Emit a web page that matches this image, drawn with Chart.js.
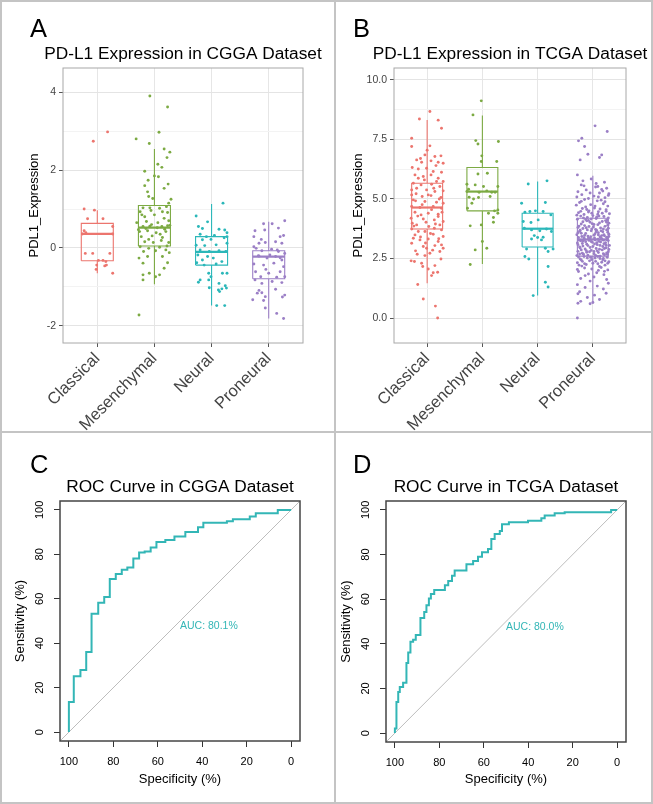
<!DOCTYPE html>
<html>
<head>
<meta charset="utf-8">
<script src="https://cdn.jsdelivr.net/npm/chart.js@4.4.1/dist/chart.umd.min.js"></script>
<style>
body { margin: 0; background: #fff; }
#fig { position: relative; width: 653px; height: 804px; overflow: hidden; background: #fff; }
#fig canvas { position: absolute; }
.ln { position: absolute; background: #c4c4c4; }
</style>
</head>
<body>
<div id="fig">
  <canvas id="chartA" width="335" height="432" style="left:0;top:0"></canvas>
  <canvas id="chartB" width="317" height="432" style="left:335px;top:0"></canvas>
  <canvas id="chartC" width="335" height="372" style="left:0;top:432px"></canvas>
  <canvas id="chartD" width="317" height="372" style="left:335px;top:432px"></canvas>
  <div class="ln" style="left:0;top:0;width:653px;height:2px"></div>
  <div class="ln" style="left:0;top:802px;width:653px;height:2px"></div>
  <div class="ln" style="left:0;top:0;width:2px;height:804px"></div>
  <div class="ln" style="left:651px;top:0;width:2px;height:804px"></div>
  <div class="ln" style="left:334px;top:0;width:2px;height:804px"></div>
  <div class="ln" style="left:0;top:431px;width:653px;height:2px"></div>
</div>
<script>
// ---- data ----
const groups = ['Classical', 'Mesenchymal', 'Neural', 'Proneural'];

// CGGA box stats: lower whisker, Q1, median, Q3, upper whisker
const cggaLow = [-0.65, -0.93, -1.48, -1.81];
const cggaQ1 = [-0.33, 0.05, -0.44, -0.79];
const cggaMed = [0.36, 0.52, -0.10, -0.22];
const cggaQ3 = [0.63, 1.09, 0.29, -0.07];
const cggaHigh = [0.97, 2.54, 1.13, 0.67];
const cggaTicks = [-2, 0, 2, 4];
const cggaMinor = [-1, 1, 3];

// jittered samples: [offset from group centre, expression]
const cggaClassical = [[-0.07,2.74],[0.18,2.98],[-0.23,1.00],[-0.05,0.97],[-0.17,0.75],[0.10,0.75],[-0.23,0.44],[-0.20,0.39],
  [0.27,0.55],[0.27,0.36],[-0.21,-0.14],[-0.08,-0.14],[0.22,-0.14],[0.02,-0.32],[0.10,-0.32],[0.15,-0.35],[-0.01,-0.44],
  [0.13,-0.46],[0.16,-0.44],[-0.02,-0.55],[0.27,-0.65],[-0.26,0.36]];
const cggaMesenchymal = [[-0.08,3.90],[0.23,3.62],[0.08,2.97],[-0.32,2.80],[-0.09,2.68],[0.17,2.54],[0.27,2.46],[0.22,2.32],
  [0.06,2.15],[0.13,2.07],[-0.17,1.97],[0.00,1.85],[-0.11,1.74],[0.07,1.83],[-0.17,1.60],[0.24,1.64],[0.17,1.53],[-0.12,1.44],
  [-0.10,1.32],[-0.03,1.27],[0.29,1.25],[0.25,1.15],[-0.20,1.03],[-0.08,1.03],[0.09,1.02],[0.21,1.06],[-0.25,0.93],[-0.06,0.96],
  [0.14,0.93],[0.23,0.91],[-0.17,0.80],[0.00,0.85],[0.17,0.76],[-0.31,0.65],[-0.14,0.68],[0.06,0.65],[0.25,0.70],[-0.20,0.55],
  [-0.08,0.56],[0.13,0.55],[0.23,0.57],[-0.26,0.42],[-0.12,0.44],[0.03,0.39],[0.20,0.42],[-0.23,0.29],[-0.04,0.31],[0.14,0.27],
  [-0.17,0.16],[-0.02,0.14],[0.12,0.19],[0.25,0.14],[-0.25,0.03],[-0.10,-0.01],[0.09,0.02],[-0.19,-0.09],[0.02,-0.07],[0.20,-0.05],
  [-0.27,-0.26],[-0.12,-0.22],[0.14,-0.22],[0.26,-0.12],[-0.20,-0.39],[0.23,-0.38],[0.17,-0.52],[-0.09,-0.65],[0.09,-0.69],
  [-0.20,-0.69],[0.02,-0.74],[-0.20,-0.82],[-0.27,-1.72],[-0.15,0.50],[0.05,0.52],[0.18,0.48],[-0.05,0.60],[0.27,0.58],
  [-0.28,0.47],[0.10,0.35],[-0.10,0.22],[0.22,0.05],[-0.22,0.85]];
const cggaNeural = [[0.20,1.15],[-0.27,0.82],[-0.07,0.67],[-0.23,0.55],[-0.16,0.50],[0.13,0.48],[0.23,0.46],[0.27,0.39],
  [-0.20,0.35],[-0.09,0.29],[0.05,0.32],[0.27,0.29],[0.22,0.26],[-0.16,0.21],[-0.01,0.22],[0.27,0.12],[-0.27,0.07],[-0.12,0.06],
  [0.08,0.08],[-0.20,-0.05],[-0.04,-0.09],[0.13,-0.07],[0.25,-0.09],[-0.24,-0.18],[-0.16,-0.31],[-0.07,-0.22],[0.03,-0.26],
  [0.18,-0.35],[0.08,-0.41],[-0.26,-0.38],[-0.13,-0.44],[-0.05,-0.65],[0.19,-0.65],[0.27,-0.65],[-0.01,-0.74],[-0.20,-0.82],
  [-0.23,-0.88],[-0.05,-0.82],[0.13,-0.91],[0.24,-0.97],[0.18,-1.05],[0.12,-1.08],[0.26,-1.03],[-0.04,-1.02],[0.14,-1.12],
  [0.09,-1.48],[0.23,-1.48]];
const cggaProneural = [[0.28,0.70],[-0.09,0.62],[0.06,0.62],[0.17,0.51],[-0.24,0.44],[-0.07,0.46],[0.26,0.32],[-0.26,0.29],
  [-0.13,0.22],[-0.17,0.12],[-0.06,0.14],[0.12,0.16],[0.23,0.12],[-0.22,-0.01],[-0.12,-0.07],[0.05,-0.03],[0.17,-0.09],
  [0.28,-0.14],[-0.17,-0.21],[-0.03,-0.26],[0.12,-0.22],[0.23,-0.31],[-0.26,-0.41],[-0.09,-0.44],[0.09,-0.39],[0.26,-0.48],
  [-0.23,-0.61],[0.00,-0.65],[0.20,-0.61],[-0.14,-0.74],[0.14,-0.75],[0.28,-0.74],[-0.24,-0.82],[-0.12,-0.91],[0.06,-0.86],
  [0.23,-0.89],[-0.17,-1.09],[-0.12,-1.15],[-0.20,-1.16],[-0.06,-1.25],[0.12,-1.06],[0.28,-1.21],[-0.28,-1.33],[-0.09,-1.35],
  [0.24,-1.26],[-0.06,-1.54],[0.14,-1.68],[0.26,-1.81],[-0.26,0.03],[0.20,0.29],[-0.18,-0.20],[0.02,-0.18],[0.20,-0.25],
  [-0.05,-0.55],[0.15,-0.05]];

// TCGA box stats
const tcgaLow = [1.46, 2.27, 0.94, 0.62];
const tcgaQ1 = [3.74, 4.50, 2.98, 2.60];
const tcgaMed = [4.64, 5.31, 3.75, 3.30];
const tcgaQ3 = [5.66, 6.32, 4.40, 4.19];
const tcgaHigh = [8.32, 8.50, 5.73, 5.97];
const tcgaTicks = [0, 2.5, 5, 7.5, 10];
const tcgaMinor = [1.25, 3.75, 6.25, 8.75];

const tcgaClassical = [[0.05,8.67],[-0.14,8.36],[0.20,8.31],[0.26,7.97],[-0.28,7.55],[-0.28,7.20],[0.05,7.23],[-0.04,6.85],
  [0.14,6.78],[0.25,6.81],[-0.19,6.64],[-0.10,6.54],[0.07,6.60],[0.20,6.54],[0.29,6.50],[-0.27,6.32],[-0.16,6.26],[-0.01,6.29],
  [0.11,6.15],[0.26,6.12],[-0.22,6.01],[-0.07,5.94],[0.07,6.01],[0.20,5.87],[0.29,5.73],[-0.25,5.66],[-0.11,5.59],[0.08,5.62],
  [0.23,5.52],[-0.28,5.38],[-0.19,5.45],[-0.01,5.38],[0.14,5.31],[0.29,5.34],[-0.28,5.17],[-0.09,5.10],[0.07,5.14],[0.25,5.06],
  [-0.21,4.92],[-0.04,4.89],[0.17,4.86],[0.29,4.82],[-0.28,4.68],[-0.13,4.64],[0.11,4.68],[0.26,4.61],[-0.22,4.44],[0.02,4.40],
  [0.20,4.36],[-0.29,4.19],[-0.07,4.16],[0.13,4.12],[0.29,4.05],[-0.19,3.91],[0.03,3.84],[0.23,3.91],[-0.28,3.74],[-0.04,3.63],
  [0.26,3.70],[-0.22,3.49],[0.11,3.52],[0.29,3.42],[-0.13,3.28],[0.02,3.32],[0.20,3.21],[-0.28,3.14],[-0.07,3.00],[0.14,3.04],
  [0.29,2.93],[-0.21,2.82],[0.05,2.72],[0.23,2.79],[-0.04,2.62],[-0.29,2.40],[-0.23,2.37],[-0.10,2.30],[0.14,2.20],[0.02,2.06],
  [0.11,1.90],[0.19,1.92],[0.08,1.78],[-0.17,1.41],[-0.07,0.80],[0.15,0.50],[0.19,0.00],[-0.16,5.87],[0.17,5.73],[-0.25,4.96],
  [0.02,5.17],[-0.11,4.33],[0.20,4.26],[-0.27,3.98],[0.13,3.77],[-0.16,3.63],[0.26,3.07],[-0.01,2.93],[-0.25,3.35],
  [-0.05,5.80],[0.12,5.45],[-0.20,5.22],[0.22,5.00],[-0.09,4.76],[0.08,4.55],[-0.17,4.28],[0.27,4.44],[-0.02,4.02],[0.15,3.95],
  [-0.24,3.86],[0.06,3.55],[-0.12,3.40],[0.21,3.33],[-0.03,3.15],[0.10,2.85],[-0.18,2.68],[0.25,2.48],[-0.08,2.16],[0.16,6.40],
  [-0.12,6.70],[0.00,7.05]];
const tcgaMesenchymal = [[-0.02,9.12],[-0.17,8.53],[-0.12,7.45],[-0.08,7.31],[0.29,7.41],[-0.01,6.81],[-0.02,6.57],[0.26,6.57],
  [-0.08,6.05],[0.09,6.08],[-0.13,5.59],[0.28,5.52],[-0.28,5.31],[-0.06,5.28],[0.08,5.34],[0.17,5.28],[-0.24,5.07],[0.14,5.10],
  [-0.07,5.06],[-0.28,5.62],[0.22,4.50],[0.28,4.54],[-0.27,4.61],[0.20,4.22],[0.28,4.40],[0.11,4.40],[-0.22,3.87],[-0.02,3.91],
  [0.20,4.02],[0.00,3.21],[0.08,2.93],[-0.13,2.86],[-0.22,2.25],[-0.16,5.00],[-0.25,5.41],[0.23,5.28],[0.02,5.52],[-0.19,4.82]];
const tcgaNeural = [[0.17,5.76],[-0.17,5.63],[-0.29,4.82],[0.14,4.85],[-0.23,4.44],[0.24,4.33],[-0.04,4.50],[0.01,4.12],
  [-0.26,4.05],[-0.12,4.01],[-0.24,3.77],[-0.11,3.70],[0.04,3.66],[0.16,3.74],[-0.06,3.46],[0.00,3.38],[0.10,3.39],[-0.11,3.32],
  [0.14,2.93],[0.28,2.90],[0.19,2.79],[-0.23,2.58],[-0.16,2.48],[0.19,2.16],[0.14,1.50],[0.19,1.30],[-0.08,0.94],[-0.20,2.90],
  [0.25,3.63],[0.07,3.28],[-0.14,4.47],[0.10,4.47]];
const tcgaProneural = [[0.04,8.07],[0.26,7.83],[-0.20,7.55],[-0.26,7.44],[-0.15,7.20],[-0.09,6.88],[0.16,6.85],[0.12,6.74],
  [-0.23,6.64],[-0.28,6.01],[-0.18,5.76],[0.21,5.70],[-0.03,5.84],[0.09,5.52],[-0.21,5.59],
  [0.25,5.45],[-0.12,5.38],[0.05,5.50],[-0.27,5.30],[0.18,5.33],[0.29,5.22],[-0.20,5.18],[0.02,5.12],[0.22,5.05],[-0.08,5.02],
  [0.12,5.25],[-0.29,5.08],[0.28,5.15],[-0.15,4.98],[0.08,4.92],[-0.24,4.85],[0.19,4.80],[-0.04,4.76],[0.27,4.70],[-0.13,4.66],
  [0.03,4.62],[-0.30,4.74],[0.15,4.95],[-0.19,4.60],[0.24,4.55],[-0.07,4.50],[0.10,4.46],[-0.26,4.42],[0.30,4.38],[-0.16,4.35],
  [0.00,4.30],[0.20,4.26],[-0.10,4.22],[-0.22,4.28],[0.13,4.58],[-0.02,4.40],[0.06,4.18],[-0.28,4.15],[0.26,4.12],[-0.11,4.08],
  [0.17,4.05],[-0.05,4.02],[0.29,3.98],[-0.21,3.95],[0.09,3.92],[-0.15,3.88],[0.22,3.85],[0.01,3.82],[-0.27,3.80],[0.14,3.78],
  [-0.08,4.10],[0.27,3.90],[-0.18,3.76],[0.05,3.72],[0.25,3.70],[-0.03,3.66],[-0.24,3.64],[0.18,3.62],[0.10,3.58],[-0.13,3.55],
  [0.29,3.52],[-0.29,3.50],[0.02,3.48],[0.21,3.45],[-0.09,3.44],[-0.20,3.42],[0.13,3.40],[0.07,3.68],[-0.26,3.38],[0.26,3.36],
  [-0.05,3.34],[0.16,3.32],[-0.15,3.30],[0.04,3.28],[0.28,3.25],[-0.22,3.24],[0.11,3.22],[-0.01,3.18],[-0.28,3.15],[0.20,3.12],
  [-0.11,3.10],[0.08,3.08],[0.30,3.05],[-0.18,3.02],[0.00,3.00],[0.15,3.35],[-0.07,3.26],[0.23,3.16],[-0.24,2.98],[0.24,2.95],
  [0.06,2.92],[-0.14,2.90],[0.17,2.86],[-0.03,2.84],[-0.27,2.80],[0.28,2.78],[0.10,2.75],[-0.19,2.72],[0.02,2.70],[0.21,2.66],
  [-0.09,2.64],[-0.29,2.62],[0.13,2.60],[-0.16,2.58],[0.26,2.55],[0.04,2.52],[-0.23,2.48],[0.18,2.45],[-0.06,2.40],[0.29,2.36],
  [-0.28,2.32],[0.09,2.28],[-0.12,2.25],[0.22,2.22],[-0.20,2.18],[0.15,2.12],[-0.02,2.06],[0.27,2.02],[-0.26,1.95],[0.07,1.90],
  [0.20,1.82],[-0.14,1.78],[0.02,1.72],[-0.22,1.66],[0.25,1.62],[-0.05,1.55],[0.28,1.46],[-0.28,1.40],[0.08,1.34],[-0.14,1.28],
  [0.19,1.22],[-0.24,1.10],[0.24,1.04],[-0.27,1.02],[0.03,0.96],[-0.10,0.86],[0.12,0.78],[-0.22,0.70],[-0.05,0.60],[0.00,0.65],
  [-0.27,0.62],[-0.28,0.00],[0.11,4.28],[-0.17,4.20],[0.25,4.02],[-0.01,3.96],[-0.25,3.86],[0.19,3.74],[-0.10,3.70],[0.27,3.60],
  [-0.21,3.56],[0.04,3.54],[0.16,3.46],[-0.16,3.37],[0.09,3.31],[0.25,3.29],[-0.25,3.27],[-0.03,3.21],[0.14,3.19],[-0.19,3.13],
  [0.03,3.11],[0.24,3.06],[-0.09,3.04],[-0.23,2.94],[0.12,2.89],[0.29,2.88],[-0.06,2.78],[-0.17,2.68],[0.19,2.70],[0.05,2.63],
  [-0.26,2.56],[0.13,2.50],[-0.02,2.46],[0.22,2.40],[-0.19,2.38],[0.00,2.30],[-0.08,4.45],[0.17,4.40],[-0.29,4.32],[0.07,4.24],
  [0.28,4.20],[-0.13,4.14],[0.12,3.99],[-0.07,3.84],[0.06,3.62],[-0.27,3.58],[0.20,3.50],[-0.04,3.41],[0.29,3.42],[-0.13,3.20],
  [0.18,3.00],[-0.21,2.86],[0.08,2.82],[-0.11,2.76],[0.26,2.68],[-0.04,2.55],[0.16,2.34],[-0.15,2.10],[0.10,2.00],[-0.08,1.85],
  [0.21,1.96],[-0.28,2.04],[-0.22,4.48],[0.09,4.36],[-0.03,4.16],[0.23,4.09],[-0.18,4.04],[0.02,3.93],[-0.12,3.79],[0.28,3.77],
  [-0.02,3.74],[0.15,3.66],[-0.23,3.69],[0.10,3.49],[-0.15,3.47],[0.25,3.39],[-0.08,3.36],[0.03,3.36],[0.19,3.27],[-0.18,3.23],
  [0.07,3.16],[-0.27,3.08],[0.13,3.05],[-0.05,2.96],[0.21,2.92],[-0.12,2.83],[0.02,2.79],[0.25,2.73],[-0.24,2.69],[0.09,2.58],
  [-0.10,2.52],[0.19,2.50],[-0.21,2.44],[0.05,2.38],[0.27,2.30],[-0.15,2.28],[0.12,2.16],[-0.25,2.22],[0.24,4.48],[-0.11,4.56],
  [0.04,4.70],[-0.21,4.90],[0.22,4.88],[0.10,5.08],[-0.05,5.25],[0.16,5.40],[-0.16,5.55],[0.06,5.65]];

// ROC curves (specificity %, sensitivity %), one point per step
const rocTicks = [0, 20, 40, 60, 80, 100];
const cggaSpec = [100, 100, 97.8, 94.8, 92.2, 89.8, 86.8, 84.1, 81.6, 78.9, 76.2, 73.7, 71, 68.4, 65.9, 63.2, 60.6, 56.6,
  52.5, 47.6, 41.9, 39.5, 28.9, 26.2, 18.6, 15.9, 6, 0];
const cggaSens = [0, 13.6, 25.1, 28, 36, 53.3, 58.2, 60.8, 68.9, 71.1, 73.1, 74.1, 78.1, 80.8, 81.3, 83.1, 85.6, 86.4,
  88, 90.1, 92.2, 94.2, 94.9, 95.8, 97, 98.5, 100, 100];
const tcgaSpec = [100, 100, 99.3, 98.5, 97.8, 96.3, 94.8, 94, 93, 91.8, 90.6, 88.5, 86.8, 85.8, 84.7, 83.8, 82.3, 77.5,
  76, 74.3, 73.1, 67.8, 64.8, 62.6, 60.8, 58.1, 56.6, 55.1, 52.8, 51.8, 48.7, 40.1, 34.1, 32.6, 28.1, 23.6, 2.7, 0];
const tcgaSens = [0, 2, 13.9, 18.4, 20.7, 22.6, 31.4, 36.1, 40.9, 41.8, 43.9, 51.6, 54.3, 57.3, 60.3, 62.3, 64.1, 66.3,
  68.1, 70.5, 72.9, 75.7, 77.1, 79, 81, 82.5, 87, 89.2, 90.6, 93.6, 94.5, 95.1, 96.3, 97.5, 98.5, 99, 100, 100];
const cggaAuc = 'AUC: 80.1%';
const tcgaAuc = 'AUC: 80.0%';

// ---- drawing ----
const FONT = '"Liberation Sans", Arial, Helvetica, sans-serif';
Chart.defaults.font.family = FONT;
Chart.defaults.color = '#000';
const colors = ['#EC756E', '#7CAA43', '#2BB7B9', '#9B7FC6'];
const rocColor = '#33B6B6';
const HW = 0.28;

const panelText = {
  id: 'panelText',
  afterDraw(chart, args, o) {
    const ctx = chart.ctx, a = chart.chartArea;
    ctx.save();
    ctx.fillStyle = '#000';
    ctx.textBaseline = 'alphabetic';
    ctx.textAlign = 'left';
    ctx.font = '25.5px ' + FONT;
    ctx.fillText(o.letter, o.letterX, o.letterY);
    ctx.textAlign = 'center';
    ctx.font = '17.3px ' + FONT;
    ctx.fillText(o.title, (a.left + a.right) / 2, o.titleY);
    ctx.restore();
  }
};

const frame = {
  id: 'frame',
  afterDatasetsDraw(chart, args, o) {
    const ctx = chart.ctx, a = chart.chartArea;
    ctx.save();
    ctx.strokeStyle = o.color;
    ctx.lineWidth = o.width;
    ctx.strokeRect(a.left, a.top, a.right - a.left, a.bottom - a.top);
    if (o.label) {
      const x = chart.scales.x.getPixelForValue(o.labelAt[0]);
      const y = chart.scales.y.getPixelForValue(o.labelAt[1]);
      ctx.fillStyle = rocColor;
      ctx.font = '10.5px ' + FONT;
      ctx.textAlign = 'left';
      ctx.textBaseline = 'top';
      ctx.fillText(o.label, x, y);
    }
    ctx.restore();
  }
};

function boxChart(id, pts, low, q1, med, q3, high, major, minor, yMin, yMax, fmt, p) {
  const datasets = [];
  groups.forEach((g, i) => {
    const c = colors[i], x = i + 1;
    datasets.push({
      type: 'scatter', order: 0,
      data: pts[i].map(d => ({ x: x + d[0], y: d[1] })),
      backgroundColor: c, pointRadius: 1.45, borderWidth: 0
    });
    datasets.push({
      type: 'line', order: 1, spanGaps: false,
      data: [{ x, y: high[i] }, { x, y: q3[i] }, { x, y: null },
        { x: x - HW, y: q1[i] }, { x: x + HW, y: q1[i] }, { x: x + HW, y: q3[i] }, { x: x - HW, y: q3[i] }, { x: x - HW, y: q1[i] },
        { x, y: null }, { x, y: q1[i] }, { x, y: low[i] }],
      borderColor: c, borderWidth: 1.1, pointRadius: 0
    });
    datasets.push({
      type: 'line', order: 1,
      data: [{ x: x - HW, y: med[i] }, { x: x + HW, y: med[i] }],
      borderColor: c, borderWidth: 2.2, pointRadius: 0
    });
  });
  const isMajor = v => major.includes(v);
  new Chart(document.getElementById(id), {
    type: 'scatter',
    data: { datasets },
    plugins: [panelText, frame],
    options: {
      responsive: false, animation: false,
      layout: { padding: { top: 68, right: p.right, left: 0, bottom: 0 } },
      scales: {
        x: {
          type: 'linear', min: 0.4, max: 4.6,
          afterBuildTicks: s => { s.ticks = groups.map((g, i) => ({ value: i + 1 })); },
          afterFit: s => { s.height = 89; },
          grid: { color: '#E6E6E6', tickColor: '#555', tickLength: 4 },
          border: { display: false },
          ticks: { callback: v => groups[v - 1], minRotation: 45, maxRotation: 45, autoSkip: false,
            font: { size: 16.5 }, color: '#444', padding: 2 }
        },
        y: {
          type: 'linear', min: yMin, max: yMax,
          afterBuildTicks: s => { s.ticks = major.concat(minor).sort((a, b) => a - b).map(v => ({ value: v })); },
          afterFit: s => { s.width = p.yWidth; },
          grid: {
            color: c => isMajor(c.tick.value) ? '#E4E4E4' : '#F3F3F3',
            tickColor: c => isMajor(c.tick.value) ? '#555' : 'rgba(0,0,0,0)',
            tickLength: 4
          },
          border: { display: false },
          ticks: { callback: v => isMajor(v) ? fmt(v) : '', font: { size: 10.5 }, color: '#444', padding: 3 },
          title: { display: true, text: 'PDL1_Expression', font: { size: 13 }, color: '#000',
            padding: { top: p.titlePad, bottom: 0 } }
        }
      },
      plugins: {
        legend: { display: false }, tooltip: { enabled: false },
        panelText: { letter: p.letter, letterX: p.letterX, letterY: 37, title: p.title, titleY: 59 },
        frame: { color: '#A8A8A8', width: 1 }
      }
    }
  });
}

function rocChart(id, spec, sens, auc, p) {
  const xMin = -4, xMax = 104;
  new Chart(document.getElementById(id), {
    type: 'scatter',
    data: {
      datasets: [
        {
          type: 'line', order: 0, stepped: 'before',
          data: spec.map((s, i) => ({ x: s, y: sens[i] })),
          borderColor: rocColor, borderWidth: 2, pointRadius: 0
        },
        {
          type: 'line', order: 1,
          data: [{ x: xMax, y: 100 - xMax }, { x: xMin, y: 100 - xMin }],
          borderColor: '#BDBDBD', borderWidth: 1, pointRadius: 0
        }
      ]
    },
    plugins: [panelText, frame],
    options: {
      responsive: false, animation: false,
      layout: { padding: { top: 69, right: p.right, left: 0, bottom: 0 } },
      scales: {
        x: {
          type: 'linear', reverse: true, min: xMin, max: xMax,
          afterBuildTicks: s => { s.ticks = rocTicks.map(v => ({ value: v })); },
          afterFit: s => { s.height = p.xHeight; },
          grid: { drawOnChartArea: false, tickLength: 6, tickColor: '#333' },
          border: { display: false },
          ticks: { font: { size: 11 }, color: '#000', padding: 8, maxRotation: 0, autoSkip: false },
          title: { display: true, text: 'Specificity (%)', font: { size: 13 }, padding: { top: 0, bottom: 17 } }
        },
        y: {
          type: 'linear', min: xMin, max: xMax,
          afterBuildTicks: s => { s.ticks = rocTicks.map(v => ({ value: v })); },
          afterFit: s => { s.width = p.yWidth; },
          grid: { drawOnChartArea: false, tickLength: 6, tickColor: '#333' },
          border: { display: false },
          ticks: { font: { size: 11 }, color: '#000', padding: 4.5, minRotation: 90, maxRotation: 90,
            crossAlign: 'center', autoSkip: false },
          title: { display: true, text: 'Sensitivity (%)', font: { size: 13 }, padding: { top: p.titlePad, bottom: 0 } }
        }
      },
      plugins: {
        legend: { display: false }, tooltip: { enabled: false },
        panelText: { letter: p.letter, letterX: p.letterX, letterY: 41, title: p.title, titleY: 60 },
        frame: { color: '#444', width: 1.5, label: auc, labelAt: [50, 50] }
      }
    }
  });
}

boxChart('chartA', [cggaClassical, cggaMesenchymal, cggaNeural, cggaProneural],
  cggaLow, cggaQ1, cggaMed, cggaQ3, cggaHigh, cggaTicks, cggaMinor, -2.44, 4.62, v => String(v),
  { right: 32, yWidth: 63, titlePad: 27, letter: 'A', letterX: 30, title: 'PD-L1 Expression in CGGA Dataset' });
boxChart('chartB', [tcgaClassical, tcgaMesenchymal, tcgaNeural, tcgaProneural],
  tcgaLow, tcgaQ1, tcgaMed, tcgaQ3, tcgaHigh, tcgaTicks, tcgaMinor, -1.05, 10.5, v => v.toFixed(1),
  { right: 26, yWidth: 59, titlePad: 16, letter: 'B', letterX: 18, title: 'PD-L1 Expression in TCGA Dataset' });
rocChart('chartC', cggaSpec, cggaSens, cggaAuc,
  { right: 35, yWidth: 60, xHeight: 63, titlePad: 13, letter: 'C', letterX: 30, title: 'ROC Curve in CGGA Dataset' });
rocChart('chartD', tcgaSpec, tcgaSens, tcgaAuc,
  { right: 26, yWidth: 51, xHeight: 62, titlePad: 4, letter: 'D', letterX: 18, title: 'ROC Curve in TCGA Dataset' });
</script>
</body>
</html>
